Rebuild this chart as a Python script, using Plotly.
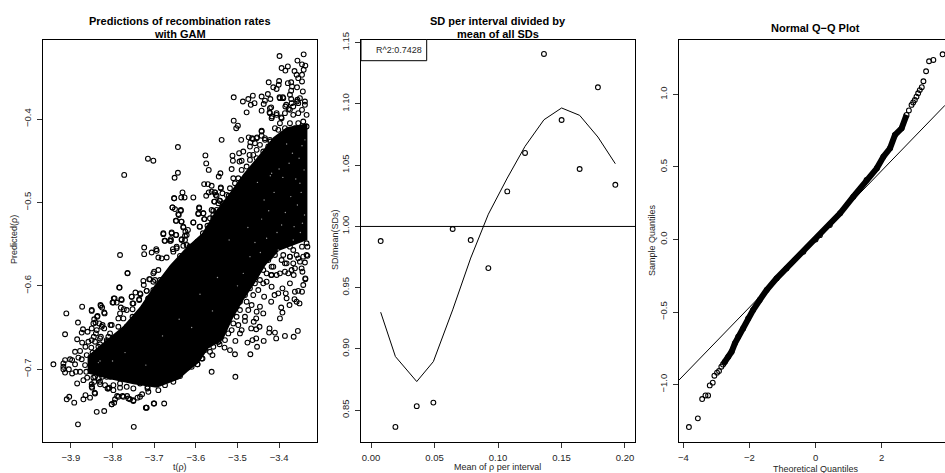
import plotly.graph_objects as go

# ---------- Panel 1: GAM predictions
gam_points = [
(-3.341,-.3225),(-3.399,-.3245),(-3.356,-.330),(-3.345,-.3345),(-3.379,-.337),(-3.394,-.3389),(-3.385,-.342),(-3.337,-.336),
(-3.341,-.341),(-3.363,-.3425),(-3.358,-.347),(-3.345,-.347),(-3.354,-.351),(-3.425,-.356),(-3.400,-.3545),(-3.345,-.355),
(-3.379,-.357),(-3.371,-.356),(-3.401,-.359),(-3.414,-.362),(-3.406,-.364),(-3.369,-.361),(-3.357,-.362),(-3.371,-.366),
(-3.343,-.367),(-3.509,-.374),(-3.463,-.372),(-3.427,-.370),(-3.442,-.373),(-3.474,-.376),(-3.487,-.379),(-3.399,-.374),
(-3.391,-.374),(-3.421,-.376),(-3.434,-.378),(-3.371,-.376),(-3.459,-.381),(-3.468,-.383),(-3.437,-.382),(-3.385,-.385),
(-3.357,-.379),(-3.377,-.388),(-3.419,-.386),(-3.442,-.390),(-3.478,-.392),(-3.423,-.392),(-3.417,-.397),(-3.406,-.395),
(-3.395,-.398),(-3.509,-.402),(-3.499,-.408),(-3.503,-.411),(-3.442,-.414),(-3.538,-.425),(-3.491,-.425),(-3.473,-.422),
(-3.465,-.423),(-3.453,-.422),(-3.442,-.420),(-3.434,-.425),(-3.421,-.427),(-3.469,-.428),
(-3.643,-.4336),(-3.715,-.4476),(-3.702,-.450),(-3.772,-.467),(-3.577,-.4436),(-3.575,-.4532),(-3.569,-.461),(-3.643,-.4644),
(-3.651,-.4704),(-3.541,-.465),(-3.545,-.469),(-3.580,-.478),(-3.571,-.478),(-3.562,-.480),(-3.540,-.482),(-3.632,-.488),
(-3.652,-.495),(-3.635,-.494),(-3.627,-.494),(-3.606,-.494),(-3.569,-.488),(-3.575,-.492),(-3.554,-.488),(-3.550,-.492),
(-3.536,-.489),(-3.521,-.492),(-3.555,-.499),(-3.542,-.498),(-3.656,-.506),(-3.650,-.508),(-3.636,-.510),(-3.592,-.507),
(-3.558,-.510),(-3.641,-.515),(-3.594,-.514),(-3.582,-.513),(-3.647,-.522),(-3.635,-.523),(-3.606,-.524),(-3.579,-.520),
(-3.566,-.519),(-3.630,-.530),(-3.591,-.529),(-3.572,-.528),(-3.619,-.533),(-3.625,-.535),(-3.678,-.538),(-3.658,-.537),
(-3.647,-.539),(-3.583,-.537),(-3.626,-.540),(-3.675,-.546),(-3.660,-.544),(-3.660,-.546),(-3.634,-.544),(-3.626,-.545),
(-3.597,-.548),(-3.578,-.543),(-3.724,-.554),(-3.646,-.553),(-3.630,-.552),(-3.615,-.553),(-3.587,-.552),(-3.695,-.556),(-3.655,-.556),
(-3.764,-.5846),(-3.783,-.602),(-3.726,-.594),(-3.725,-.599),(-3.710,-.592),(-3.700,-.583),(-3.698,-.593),(-3.718,-.606),
(-3.745,-.608),(-3.754,-.613),(-3.733,-.610),(-3.795,-.615),(-3.800,-.620),(-3.790,-.620),(-3.779,-.616),(-3.736,-.616),
(-3.714,-.615),(-3.752,-.621),(-3.873,-.625),(-3.850,-.629),(-3.829,-.623),(-3.825,-.626),(-3.820,-.632),(-3.780,-.626),
(-3.773,-.628),(-3.752,-.628),(-3.911,-.633),(-3.836,-.636),(-3.844,-.640),(-3.883,-.644),(-3.841,-.644),(-3.832,-.645),
(-3.824,-.647),(-3.805,-.647),(-3.786,-.639),(-3.871,-.652),(-3.850,-.651),(-3.860,-.655),(-3.874,-.656),(-3.838,-.653),
(-3.820,-.651),(-3.914,-.658),(-3.845,-.661),(-3.828,-.661),(-3.810,-.661),(-3.885,-.664),(-3.873,-.668),(-3.858,-.667),
(-3.842,-.667),(-3.830,-.670),(-3.813,-.667),(-3.865,-.673),(-3.851,-.674),(-3.890,-.679),(-3.878,-.678),(-3.862,-.683),
(-3.848,-.680),(-3.882,-.686),(-3.902,-.688),(-3.914,-.689),(-3.897,-.689),(-3.874,-.688),(-3.918,-.693),(-3.942,-.694),
(-3.890,-.694),(-3.866,-.695),(-3.918,-.697),(-3.918,-.700),(-3.905,-.700),(-3.878,-.703),(-3.914,-.704),(-3.888,-.703),
(-3.897,-.705),(-3.863,-.703),(-3.844,-.699),(-3.870,-.713),(-3.861,-.710),(-3.885,-.717),(-3.846,-.710),(-3.825,-.709),
(-3.833,-.711),(-3.814,-.709),(-3.850,-.718),(-3.844,-.715),(-3.830,-.718),(-3.808,-.722),(-3.849,-.722),(-3.812,-.723),
(-3.798,-.719),(-3.782,-.722),(-3.843,-.728),(-3.865,-.731),(-3.854,-.734),(-3.870,-.736),(-3.904,-.733),(-3.910,-.736),
(-3.892,-.740),(-3.789,-.732),(-3.776,-.732),(-3.765,-.732),(-3.794,-.736),(-3.758,-.736),(-3.750,-.738),(-3.740,-.734),
(-3.729,-.730),(-3.802,-.742),(-3.796,-.740),(-3.719,-.746),(-3.701,-.741),(-3.716,-.723),(-3.838,-.751),(-3.820,-.750),
(-3.883,-.766),(-3.749,-.769),(-3.676,-.741),(-3.700,-.741),(-3.720,-.746),
(-3.562,-.703),(-3.505,-.709),(-3.560,-.683),(-3.506,-.682),(-3.469,-.682),(-3.596,-.694),(-3.584,-.687),(-3.518,-.677),
(-3.531,-.674),(-3.543,-.670),(-3.558,-.673),(-3.505,-.666),(-3.476,-.668),(-3.464,-.665),(-3.455,-.663),(-3.453,-.673),
(-3.437,-.666),(-3.407,-.663),(-3.386,-.660),(-3.365,-.661),(-3.355,-.654),(-3.410,-.656),(-3.423,-.651),(-3.424,-.656),
(-3.447,-.649),(-3.455,-.652),(-3.467,-.651),(-3.490,-.653),(-3.494,-.657),(-3.514,-.653),(-3.398,-.639),(-3.392,-.632),
(-3.395,-.626),(-3.438,-.633),(-3.455,-.639),(-3.461,-.643),(-3.482,-.637),(-3.482,-.642),(-3.498,-.647),(-3.375,-.623),
(-3.363,-.616),(-3.351,-.621),(-3.358,-.619),(-3.419,-.619),(-3.436,-.613),(-3.446,-.625),(-3.454,-.631),(-3.466,-.623),
(-3.474,-.629),(-3.362,-.607),(-3.354,-.606),(-3.345,-.607),(-3.342,-.599),(-3.337,-.592),(-3.374,-.597),(-3.392,-.603),
(-3.384,-.609),(-3.382,-.615),(-3.402,-.609),(-3.411,-.611),(-3.418,-.601),(-3.430,-.595),(-3.365,-.587),(-3.344,-.583),
(-3.332,-.564),(-3.338,-.572),(-3.346,-.579),(-3.362,-.579),(-3.386,-.573),(-3.378,-.585),(-3.406,-.587),(-3.419,-.587),
(-3.334,-.549),(-3.354,-.567),(-3.374,-.565),(-3.394,-.569),(-3.410,-.563),
(-3.724,-.562),(-3.782,-.563),(-3.764,-.585),(-3.784,-.602),(-3.712,-.592),(-3.702,-.595),(-3.702,-.585),(-3.690,-.581),
(-3.682,-.567),(-3.670,-.566),(-3.706,-.560),(-3.694,-.558),(-3.690,-.566),(-3.678,-.537),(-3.674,-.546),(-3.662,-.546),
(-3.658,-.536),(-3.648,-.539),(-3.648,-.522),(-3.634,-.523),(-3.656,-.506),(-3.642,-.514),(-3.636,-.509),(-3.652,-.495),
(-3.606,-.524),(-3.594,-.513),(-3.592,-.506),(-3.582,-.513),(-3.580,-.520),(-3.590,-.529),(-3.596,-.547),(-3.622,-.539),
(-3.630,-.529),(-3.634,-.545),(-3.622,-.551),(-3.614,-.553),(-3.646,-.555),(-3.654,-.559),(-3.638,-.564),(-3.606,-.561),
(-3.578,-.539),(-3.570,-.531),(-3.558,-.519),(-3.574,-.543),(-3.550,-.509),(-3.554,-.488),(-3.546,-.501),
(-3.754,-.613),(-3.734,-.609),(-3.718,-.606),(-3.714,-.615),(-3.750,-.621),(-3.736,-.617),(-3.797,-.615),(-3.778,-.617),
(-3.798,-.620),(-3.828,-.624),(-3.819,-.633),(-3.850,-.630),(-3.782,-.633),(-3.766,-.629),(-3.752,-.637),(-3.774,-.639),
(-3.802,-.647),(-3.837,-.637),(-3.846,-.645),(-3.826,-.649),(-3.806,-.657),(-3.786,-.649),(-3.766,-.649),(-3.840,-.657),
(-3.830,-.663),(-3.850,-.665),(-3.814,-.665),(-3.794,-.663),(-3.834,-.673),(-3.686,-.593),(-3.702,-.605),(-3.694,-.611),
(-3.596,-.694),(-3.610,-.697),(-3.586,-.687),(-3.574,-.669),(-3.546,-.667),(-3.570,-.657),(-3.638,-.708),(-3.654,-.715),
(-3.674,-.719),(-3.690,-.725),(-3.714,-.727),(-3.716,-.721),(-3.734,-.733),(-3.750,-.737),(-3.762,-.735),(-3.774,-.733),
(-3.786,-.733),(-3.802,-.742),(-3.718,-.746),(-3.810,-.723),(-3.818,-.719),(-3.798,-.725),(-3.842,-.729),(-3.850,-.721),
(-3.830,-.715),(-3.782,-.717),(-3.766,-.721),(-3.750,-.723),(-3.734,-.717),(-3.718,-.713),(-3.694,-.717),(-3.670,-.713),
(-3.750,-.713),(-3.806,-.709),(-3.842,-.709),(-3.846,-.701),(-3.822,-.705),
(-3.463,-.424),(-3.454,-.423),(-3.442,-.415),(-3.434,-.423),(-3.422,-.425),(-3.414,-.429),(-3.426,-.433),(-3.446,-.431),
(-3.458,-.429),(-3.470,-.433),(-3.454,-.437),(-3.438,-.439),(-3.471,-.443),(-3.462,-.443),(-3.486,-.439),(-3.496,-.441),
(-3.512,-.444),(-3.511,-.450),(-3.490,-.450),(-3.495,-.451),(-3.470,-.449),(-3.454,-.447),(-3.478,-.457),(-3.490,-.461),
(-3.514,-.460),(-3.510,-.471),(-3.498,-.471),(-3.478,-.469),(-3.506,-.477),(-3.486,-.477),(-3.474,-.475),(-3.540,-.483),
(-3.518,-.483),(-3.502,-.487),(-3.486,-.485),(-3.552,-.491),(-3.562,-.487),(-3.526,-.491),(-3.510,-.493),(-3.556,-.499),
(-3.543,-.498),(-3.534,-.501),(-3.522,-.497),(-3.558,-.515),(-3.538,-.509),(-3.552,-.519),(-3.562,-.509),
(-3.402,-.413),(-3.410,-.411),(-3.398,-.405),(-3.418,-.399),(-3.406,-.393),(-3.394,-.399),(-3.386,-.393),(-3.374,-.389),
(-3.383,-.383),(-3.366,-.385),(-3.354,-.381),(-3.334,-.395),(-3.345,-.389),(-3.338,-.383),(-3.354,-.393),(-3.366,-.395),
(-3.374,-.405),(-3.354,-.405),(-3.342,-.403),(-3.334,-.409),(-3.362,-.411),(-3.386,-.411),(-3.345,-.413),(-3.374,-.371),
(-3.350,-.375),(-3.338,-.379),(-3.356,-.377),(-3.370,-.381),(-3.390,-.375),(-3.398,-.375),(-3.422,-.387),(-3.422,-.393),
(-3.390,-.563),(-3.374,-.565),(-3.358,-.563),(-3.342,-.565),(-3.334,-.563),(-3.382,-.573),(-3.366,-.573),(-3.350,-.571),
(-3.386,-.583),(-3.370,-.581),(-3.337,-.591),(-3.398,-.585),(-3.414,-.577),(-3.422,-.565),(-3.418,-.587),(-3.366,-.557),
(-3.345,-.553),(-3.374,-.553),(-3.332,-.553),
(-3.426,-.569),(-3.418,-.577),(-3.438,-.581),(-3.430,-.585),(-3.446,-.593),(-3.458,-.597),(-3.438,-.597),(-3.470,-.603),
(-3.450,-.605),(-3.482,-.611),(-3.462,-.611),(-3.494,-.619),(-3.478,-.619),(-3.506,-.627),(-3.494,-.629),(-3.518,-.635),
(-3.502,-.637),(-3.526,-.643),(-3.510,-.645),(-3.534,-.653),(-3.522,-.657),(-3.530,-.665),(-3.546,-.667),(-3.570,-.669),
(-3.578,-.677),(-3.590,-.681),(-3.602,-.685),(-3.566,-.679),
]
gam_x = [p[0] for p in gam_points]
gam_y = [p[1] for p in gam_points]

# saturated part of the cloud, where individual circles merge into solid black
gam_core_x = [-3.860,-3.822,-3.774,-3.734,-3.700,-3.662,-3.625,-3.585,-3.555,-3.518,-3.486,-3.446,-3.414,-3.382,-3.332,-3.332,-3.400,-3.432,-3.456,-3.488,-3.512,-3.535,-3.570,-3.592,-3.620,-3.640,-3.694,-3.750,-3.806,-3.860]
gam_core_y = [-.684,-.668,-.648,-.625,-.600,-.575,-.555,-.537,-.512,-.488,-.466,-.442,-.422,-.410,-.405,-.545,-.558,-.575,-.595,-.619,-.640,-.665,-.675,-.692,-.703,-.712,-.722,-.718,-.712,-.705]
# small holes left between the circles inside the saturated part
gam_gap_x = [-3.418,-3.421,-3.402,-3.378,-3.834,-3.830,-3.345,-3.352,-3.340,-3.360,-3.368,-3.347,-3.356,-3.339,-3.372,-3.385,-3.394,-3.405,-3.430,-3.442,-3.458,-3.470,-3.486,-3.364,-3.349,-3.376,-3.391,-3.412,-3.344,-3.436,-3.452,-3.520,-3.548,-3.590,-3.640,-3.680,-3.720,-3.770,-3.800,-3.610,-3.560,-3.500,-3.475,-3.445,-3.425,-3.400,-3.382,-3.366,-3.350,-3.338]
gam_gap_y = [-.465,-.468,-.557,-.407,-.692,-.690,-.432,-.447,-.461,-.472,-.441,-.488,-.503,-.515,-.493,-.512,-.527,-.536,-.543,-.520,-.548,-.565,-.585,-.529,-.536,-.453,-.470,-.488,-.525,-.497,-.476,-.545,-.590,-.610,-.640,-.660,-.695,-.680,-.690,-.650,-.630,-.600,-.530,-.560,-.510,-.460,-.430,-.545,-.477,-.425]

# ---------- Panel 2: SD per interval
sd_x = [.0076,.0192,.0360,.0491,.0643,.0785,.0924,.1073,.1213,.1362,.1501,.1643,.1787,.1924]
sd_y = [.9881,.8364,.8533,.8562,.9979,.9889,.9660,1.0286,1.0600,1.1408,1.0869,1.0469,1.1136,1.0340]
sd_fit = [.9300,.8938,.8734,.8897,.9319,.9742,1.010,1.0395,1.0654,1.0871,1.0967,1.0907,1.0730,1.0512]
sd_ref = [1, 1]
sd_ref_x = [-.0079, .2079]

# ---------- Panel 3: Q-Q
qq_tail_lo_x = [-3.83,-3.56,-3.43,-3.33,-3.25,-3.20,-3.11,-3.06,-2.98,-2.92,-2.85]
qq_tail_lo_y = [-1.293,-1.233,-1.100,-1.075,-1.075,-1.006,-.987,-.939,-.918,-.907,-.877]
qq_x = [-2.80,-2.74,-2.64,-2.54,-2.44,-2.34,-2.19,-2.04,-1.89,-1.69,-1.48,-1.18,-.88,-.37,0,.13,.43,.74,1.14,1.54,1.85,2.05,2.25,2.40,2.60,2.75]
qq_y = [-.862,-.843,-.808,-.774,-.716,-.670,-.613,-.544,-.486,-.417,-.348,-.268,-.199,-.084,0,.03,.10,.181,.295,.410,.491,.571,.629,.721,.767,.859]
qq_tail_hi_x = [2.82,2.90,2.95,3.00,3.05,3.10,3.15,3.21,3.26,3.34,3.43,3.56,3.84]
qq_tail_hi_y = [.89,.928,.945,.962,.985,1.008,1.03,1.050,1.091,1.160,1.229,1.238,1.277]
qq_line_x = [-4.13,3.912]
qq_line_y = [-.969,.9255]

W, H = 945, 473
TOP, BOTTOM = 39.5, 441.7
INK = "#000000"
TXT = "#262626"
FONT = "Liberation Sans"

ring = dict(symbol="circle-open", size=4.8, color=INK, line=dict(width=1.1, color=INK))
fig = go.Figure()

# panel 1
fig.add_trace(go.Scatter(x=gam_core_x, y=gam_core_y, fill="toself", fillcolor=INK, mode="none", xaxis="x", yaxis="y", hoverinfo="skip"))
fig.add_trace(go.Scatter(x=gam_x, y=gam_y, mode="markers", marker=ring, xaxis="x", yaxis="y"))
fig.add_trace(go.Scatter(x=gam_gap_x, y=gam_gap_y, mode="markers", marker=dict(symbol="circle", size=1.4, color="#999999"), xaxis="x", yaxis="y", hoverinfo="skip"))
# panel 2
fig.add_trace(go.Scatter(x=sd_x, y=sd_y, mode="markers", marker=ring, xaxis="x2", yaxis="y2"))
fig.add_trace(go.Scatter(x=sd_x, y=sd_fit, mode="lines", line=dict(color=INK, width=1), xaxis="x2", yaxis="y2"))
fig.add_trace(go.Scatter(x=sd_ref_x, y=sd_ref, mode="lines", line=dict(color=INK, width=1), xaxis="x2", yaxis="y2"))
# panel 3
fig.add_trace(go.Scatter(x=qq_x, y=qq_y, mode="lines+markers", line=dict(color=INK, width=6), marker=ring, xaxis="x3", yaxis="y3"))
fig.add_trace(go.Scatter(x=qq_tail_lo_x, y=qq_tail_lo_y, mode="markers", marker=ring, xaxis="x3", yaxis="y3"))
fig.add_trace(go.Scatter(x=qq_tail_hi_x, y=qq_tail_hi_y, mode="markers", marker=ring, xaxis="x3", yaxis="y3"))
fig.add_trace(go.Scatter(x=qq_line_x, y=qq_line_y, mode="lines", line=dict(color=INK, width=1), xaxis="x3", yaxis="y3"))

def xax(domain, rng, vals, text, anchor, mirror=True):
    return dict(domain=[domain[0]/W, domain[1]/W], range=rng, tickmode="array", tickvals=vals, ticktext=text, automargin=False,
                anchor=anchor, showgrid=False, zeroline=False, showline=True, mirror=mirror, linecolor=INK, linewidth=1,
                ticks="outside", ticklen=5, tickwidth=1, tickcolor="#333", ticklabelstandoff=2,
                tickfont=dict(family=FONT, size=9.5, color=TXT), tickangle=0)

def yax(rng, vals, text, anchor, mirror=True):
    return dict(domain=[(H-BOTTOM)/H, (H-TOP)/H], range=rng, tickmode="array", tickvals=vals, ticktext=text, automargin=False,
                anchor=anchor, showgrid=False, zeroline=False, showline=True, mirror=mirror, linecolor=INK, linewidth=1,
                ticks="outside", ticklen=5, tickwidth=1, tickcolor="#333", ticklabelstandoff=2,
                tickfont=dict(family=FONT, size=9.5, color=TXT), tickangle=-90)

fig.update_layout(
    width=W, height=H, margin=dict(l=0, r=0, t=0, b=0), autosize=False, showlegend=False,
    paper_bgcolor="white", plot_bgcolor="white",
    xaxis=xax((43,317), [-3.967,-3.309], [-3.9,-3.8,-3.7,-3.6,-3.5,-3.4], ["−3.9","−3.8","−3.7","−3.6","−3.5","−3.4"], "y"),
    yaxis=yax([-.7868,-.3047], [-.7,-.6,-.5,-.4], ["−0.7","−0.6","−0.5","−0.4"], "x"),
    xaxis2=xax((361,635), [-.0079,.2079], [0,.05,.1,.15,.2], ["0.00","0.05","0.10","0.15","0.20"], "y2"),
    yaxis2=yax([.8243,1.1526], [.85,.9,.95,1,1.05,1.1,1.15], ["0.85","0.90","0.95","1.00","1.05","1.10","1.15"], "x2"),
    xaxis3=xax((679,945), [-4.13,3.912], [-4,-2,0,2], ["−4","−2","0","2"], "y3"),
    yaxis3=yax([-1.394,1.379], [-1,-.5,0,.5,1], ["−1.0","−0.5","0.0","0.5","1.0"], "x3", mirror=False),
)

def note(text, x, y, size=9, bold=False, angle=0, color=TXT):
    t = f"<b>{text}</b>" if bold else text
    fig.add_annotation(text=t, x=x/W, y=1-y/H, xref="paper", yref="paper", showarrow=False, xanchor="center", yanchor="middle",
                       textangle=angle, font=dict(family=FONT, size=size, color=color))

note("Predictions of recombination rates", 180, 21, 11, True, color=INK)
note("with GAM", 180, 34, 11, True, color=INK)
note("SD per interval divided by", 497.7, 21, 11, True, color=INK)
note("mean of all SDs", 497.7, 34, 11, True, color=INK)
note("Normal Q−Q Plot", 815.7, 28, 11, True, color=INK)
note("t(ρ)", 180, 466.5)
note("Mean of ρ per interval", 497.7, 466.5)
note("Theoretical Quantiles", 815.7, 468.5)
note("Predicted(ρ)", 14, 240, angle=-90)
note("SD/mean(SDs)", 335, 240, angle=-90)
note("Sample Quantiles", 652, 240, angle=-90)

# R^2 legend box in panel 2
fig.add_shape(type="rect", xref="paper", yref="paper", x0=361/W, x1=426.7/W, y0=1-60.7/H, y1=1-TOP/H, line=dict(color=INK, width=1), fillcolor="white")
note("R^2:0.7428", 399, 50, 9)

fig.write_html("out.html", config=dict(displayModeBar=False),
               post_script="document.body.style.margin='0';document.documentElement.style.overflow='hidden';")
